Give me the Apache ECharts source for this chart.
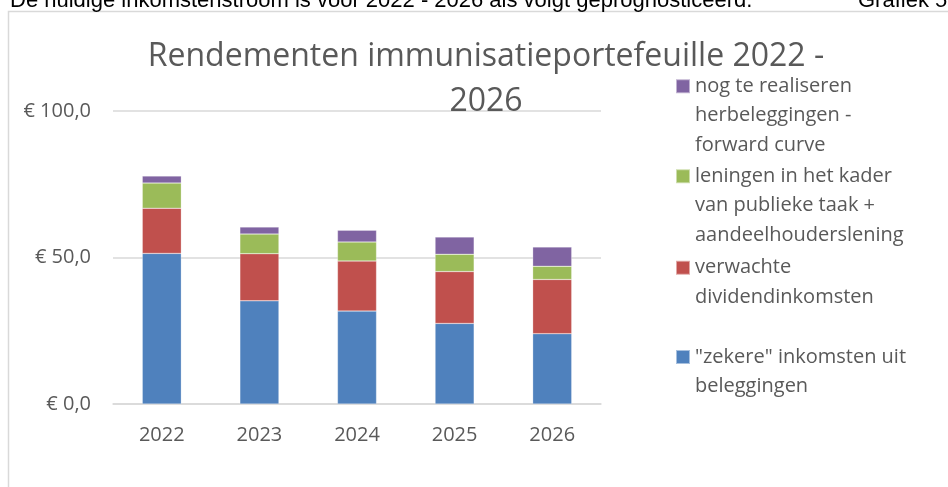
<!DOCTYPE html>
<html>
<head>
<meta charset="utf-8">
<script src="https://cdn.jsdelivr.net/npm/echarts@6/dist/echarts.min.js"></script>
<style>
  html, body { margin: 0; padding: 0; background: #fff; }
  #chart { width: 948px; height: 487px; }
</style>
</head>
<body>
<div id="chart"></div>
<script>
// data (bedragen in miljoenen euro)
const years = ['2022', '2023', '2024', '2025', '2026'];
const zekere = [51.4, 35.2, 31.7, 27.5, 24.0];
const dividend = [15.4, 16.1, 17.1, 17.7, 18.5];
const leningen = [8.6, 6.7, 6.5, 5.9, 4.5];
const herbeleggingen = [2.4, 2.4, 4.0, 5.9, 6.6];
const yTicks = [0, 50, 100];
const yTickLabels = ['€ 0,0', '€ 50,0', '€ 100,0'];

const names = [
    '"zekere" inkomsten uit\nbeleggingen',
    'verwachte\ndividendinkomsten',
    'leningen in het kader\nvan publieke taak +\naandeelhouderslening',
    'nog te realiseren\nherbeleggingen -\nforward curve'
];
const colors = ['#4F81BD', '#C0504D', '#9BBB59', '#8064A2'];
const font = '"Open Sans", sans-serif';
const textColor = '#595959';
const lineH = 29.5;

let myChart = echarts.init(document.getElementById('chart'));

// one legend per item so the spacing matches Excel; blank lines on top keep
// the icon level with the first text line
function legendFor(name, top) {
    let n = name.split('\n').length;
    return {
        data: [name],
        orient: 'vertical',
        left: 675,
        top: top,
        padding: 0,
        itemWidth: 14,
        itemHeight: 14,
        itemGap: 0,
        icon: 'rect',
        selectedMode: false,
        formatter: function (s) {
            return '\n'.repeat(n - 1) + s;
        },
        textStyle: {
            fontFamily: font,
            fontSize: 20,
            color: textColor,
            lineHeight: lineH
        }
    };
}

let series = [zekere, dividend, leningen, herbeleggingen].map(function (vals, i) {
    return {
        name: names[i],
        type: 'bar',
        stack: 'totaal',
        barWidth: '40%',
        data: vals,
        itemStyle: { color: colors[i], borderColor: 'rgba(255,255,255,0.5)', borderWidth: 0.5 },
        emphasis: { disabled: true }
    };
});

let option = {
    animation: false,
    backgroundColor: '#fff',
    title: {
        text: 'Rendementen immunisatieportefeuille 2022 -\n2026',
        left: 486,
        top: 34,
        padding: 0,
        textAlign: 'center',
        textStyle: {
            fontFamily: font,
            fontSize: 32,
            fontWeight: 'normal',
            color: textColor,
            lineHeight: 45
        }
    },
    legend: [
        legendFor(names[3], 12.5),
        legendFor(names[2], 102.5),
        legendFor(names[1], 223.5),
        legendFor(names[0], 312.75)
    ],
    grid: {
        left: 113,
        right: 347,
        top: 111,
        bottom: 83,
        containLabel: false
    },
    xAxis: {
        type: 'category',
        data: years,
        axisTick: { show: false },
        axisLine: { lineStyle: { color: '#d9d9d9', width: 1.5 } },
        axisLabel: {
            margin: 21,
            fontFamily: font,
            fontSize: 20,
            color: textColor
        }
    },
    yAxis: {
        type: 'value',
        min: 0,
        max: 100,
        interval: 50,
        axisLine: { show: false },
        axisTick: { show: false },
        axisLabel: {
            margin: 22,
            fontFamily: font,
            fontSize: 20,
            color: textColor,
            formatter: function (v) {
                return yTickLabels[yTicks.indexOf(v)];
            }
        },
        splitLine: { lineStyle: { color: '#d9d9d9', width: 1.5 } }
    },
    graphic: [
        {
            type: 'rect',
            silent: true,
            shape: { x: 8.5, y: 11.5, width: 1000, height: 600 },
            style: { fill: 'none', stroke: '#d9d9d9', lineWidth: 1.5 }
        },
        {
            type: 'text',
            silent: true,
            x: 10,
            y: 12,
            style: {
                text: 'De huidige inkomstenstroom is voor 2022 - 2026 als volgt geprognosticeerd.',
                fontFamily: '"Liberation Sans", sans-serif',
                fontSize: 22,
                fill: '#000',
                verticalAlign: 'bottom'
            }
        },
        {
            type: 'text',
            silent: true,
            x: 858,
            y: 12,
            style: {
                text: 'Grafiek 5',
                fontFamily: '"Liberation Sans", sans-serif',
                fontSize: 22,
                fill: '#000',
                verticalAlign: 'bottom'
            }
        }
    ],
    series: series
};
myChart.setOption(option);
</script>
</body>
</html>
